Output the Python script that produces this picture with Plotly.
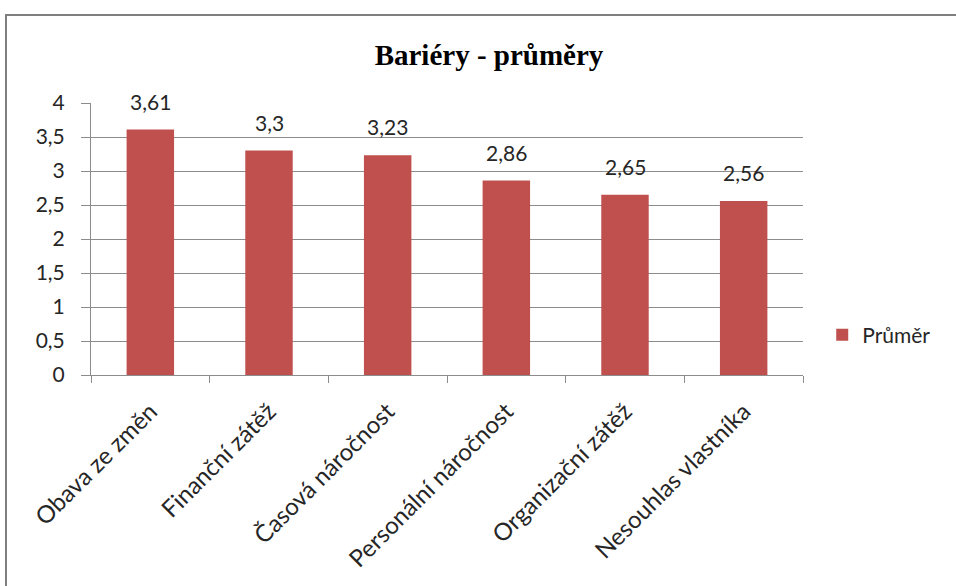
import plotly.graph_objects as go

categories = ["Obava ze změn", "Finanční zátěž", "Časová náročnost",
              "Personální náročnost", "Organizační zátěž", "Nesouhlas vlastníka"]
values = [3.61, 3.3, 3.23, 2.86, 2.65, 2.56]
series_name = "Průměr"
title_text = "Bariéry - průměry"
y_ticks = [0, 0.5, 1, 1.5, 2, 2.5, 3, 3.5, 4]

labels = [f"{v:g}".replace(".", ",") for v in values]
tick_text = [f"{t:g}".replace(".", ",") for t in y_ticks]

font_sans = "Lato, 'Open Sans', sans-serif"
text_col = "#262626"
grid_col = "#8c8c8c"

fig = go.Figure(go.Bar(
    x=categories, y=values, name=series_name,
    marker=dict(color="#C0504D", line=dict(width=0)),
    showlegend=True,
))

# value labels above each bar
for cat, val, lab in zip(categories, values, labels):
    fig.add_annotation(x=cat, y=val, text=lab, showarrow=False,
                       xref="x", yref="y", yanchor="bottom", yshift=14,
                       font=dict(family=font_sans, size=21, color=text_col))

fig.update_layout(
    width=956, height=586,
    margin=dict(l=91, r=153, t=103, b=211),
    paper_bgcolor="white", plot_bgcolor="white",
    bargap=0.6,
    title=dict(text=f"<b>{title_text}</b>", x=489/956, xanchor="center",
               y=1 - 55/586, yanchor="middle",
               font=dict(family="'Liberation Serif', 'Times New Roman', serif",
                         size=29, color="black")),
    legend=dict(x=1.027, y=0.147, xanchor="left", yanchor="middle",
                font=dict(family=font_sans, size=21, color=text_col),
                itemwidth=30),
    showlegend=True,
)

fig.update_xaxes(
    type="category", tickson="boundaries", ticks="outside", ticklen=7,
    tickcolor=grid_col, showline=True, linecolor=grid_col, linewidth=1,
    tickangle=-45, showgrid=False, ticklabelstandoff=12,
    tickfont=dict(family=font_sans, size=24, color=text_col),
)
fig.update_yaxes(
    range=[0, 4], tickvals=y_ticks, ticktext=tick_text,
    ticks="outside", ticklen=9, tickcolor=grid_col,
    showline=True, linecolor=grid_col, linewidth=1,
    showgrid=True, gridcolor=grid_col, gridwidth=1, zeroline=False,
    ticklabelstandoff=12,
    tickfont=dict(family=font_sans, size=21, color=text_col),
)

# chart-area frame
fig.add_shape(type="rect", xref="paper", yref="paper",
              x0=(6 - 91) / 712, x1=(990 - 91) / 712,
              y0=(375 - 620) / 272, y1=(375 - 15) / 272,
              line=dict(color="#7f7f7f", width=2), layer="below")

fig.write_html("out.html")
